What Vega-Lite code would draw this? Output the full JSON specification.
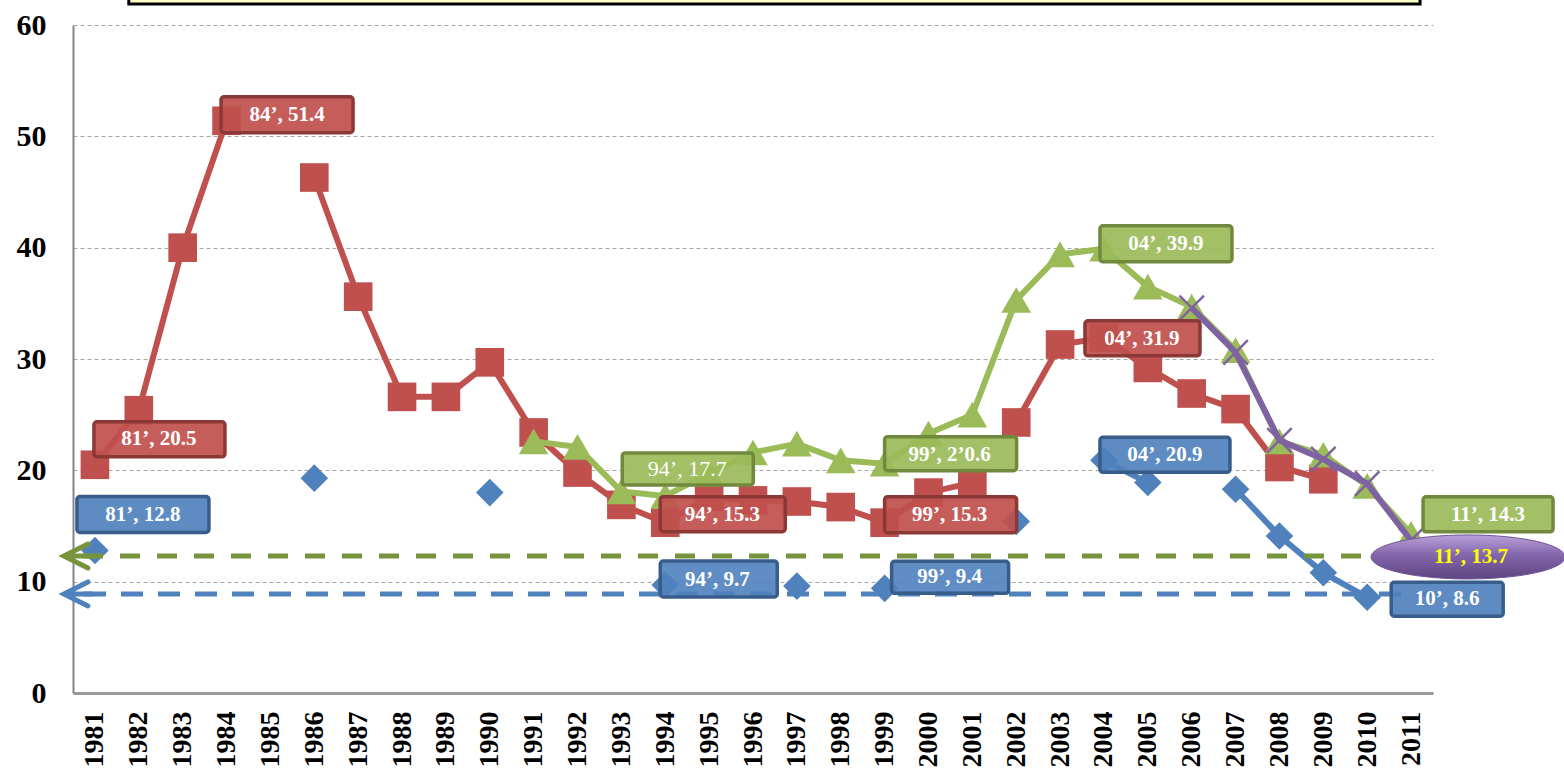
{
  "$schema": "https://vega.github.io/schema/vega-lite/v6.json",
  "width": 1360,
  "height": 668,
  "autosize": {"type": "none"},
  "padding": {"left": 73, "top": 25, "right": 131, "bottom": 77},
  "background": "white",
  "config": {
    "view": {"stroke": null},
    "font": "Liberation Serif",
    "numberFormat": "d",
    "axisX": {
      "tickCount": 31, "labelAngle": -90, "grid": false, "ticks": false, "tickSize": 0,
      "domainColor": "#999999", "domainWidth": 3,
      "labelFont": "Liberation Serif", "labelFontWeight": "bold", "labelFontSize": 28,
      "labelColor": "black", "labelPadding": 18, "labelOverlap": false, "labelFlush": false
    },
    "axisY": {
      "tickCount": 6, "grid": true, "gridDash": [4, 3], "gridColor": "#A6A6A6", "gridWidth": 1,
      "domainColor": "#868686", "domainWidth": 2, "ticks": false, "tickSize": 0,
      "labelFont": "Liberation Serif", "labelFontWeight": "bold", "labelFontSize": 30,
      "labelColor": "black", "labelPadding": 27
    }
  },
  "datasets": {
    "series": [
      {"series": "S1", "year": 1981, "value": 20.5},
      {"series": "S1", "year": 1982, "value": 25.4},
      {"series": "S1", "year": 1983, "value": 40.0},
      {"series": "S1", "year": 1984, "value": 51.4},
      {"series": "S1", "year": 1985, "value": null},
      {"series": "S1", "year": 1986, "value": 46.3},
      {"series": "S1", "year": 1987, "value": 35.6},
      {"series": "S1", "year": 1988, "value": 26.6},
      {"series": "S1", "year": 1989, "value": 26.6},
      {"series": "S1", "year": 1990, "value": 29.7},
      {"series": "S1", "year": 1991, "value": 23.4},
      {"series": "S1", "year": 1992, "value": 19.8},
      {"series": "S1", "year": 1993, "value": 16.9},
      {"series": "S1", "year": 1994, "value": 15.3},
      {"series": "S1", "year": 1995, "value": 17.6},
      {"series": "S1", "year": 1996, "value": 17.3},
      {"series": "S1", "year": 1997, "value": 17.2},
      {"series": "S1", "year": 1998, "value": 16.7},
      {"series": "S1", "year": 1999, "value": 15.3},
      {"series": "S1", "year": 2000, "value": 18.0},
      {"series": "S1", "year": 2001, "value": 18.9},
      {"series": "S1b", "year": 2002, "value": 24.3},
      {"series": "S1b", "year": 2003, "value": 31.3},
      {"series": "S1b", "year": 2004, "value": 31.9},
      {"series": "S1b", "year": 2005, "value": 29.2},
      {"series": "S1b", "year": 2006, "value": 26.9},
      {"series": "S1b", "year": 2007, "value": 25.5},
      {"series": "S1b", "year": 2008, "value": 20.3},
      {"series": "S1b", "year": 2009, "value": 19.2},
      {"series": "S2", "year": 1991, "value": 22.6},
      {"series": "S2", "year": 1992, "value": 22.1},
      {"series": "S2", "year": 1993, "value": 18.1},
      {"series": "S2", "year": 1994, "value": 17.7},
      {"series": "S2", "year": 1995, "value": 19.7},
      {"series": "S2", "year": 1996, "value": 21.6},
      {"series": "S2", "year": 1997, "value": 22.4},
      {"series": "S2", "year": 1998, "value": 20.9},
      {"series": "S2", "year": 1999, "value": 20.6},
      {"series": "S2", "year": 2000, "value": 23.3},
      {"series": "S2", "year": 2001, "value": 25.0},
      {"series": "S2", "year": 2002, "value": 35.3},
      {"series": "S2", "year": 2003, "value": 39.4},
      {"series": "S2", "year": 2004, "value": 39.9},
      {"series": "S2", "year": 2005, "value": 36.5},
      {"series": "S2", "year": 2006, "value": 34.7},
      {"series": "S2", "year": 2007, "value": 30.8},
      {"series": "S2", "year": 2008, "value": 22.6},
      {"series": "S2", "year": 2009, "value": 21.4},
      {"series": "S2", "year": 2010, "value": 18.6},
      {"series": "S2", "year": 2011, "value": 14.3},
      {"series": "S3", "year": 1981, "value": 12.8},
      {"series": "S3", "year": 1982, "value": null},
      {"series": "S3", "year": 1986, "value": 19.3},
      {"series": "S3", "year": 1987, "value": null},
      {"series": "S3", "year": 1990, "value": 18.0},
      {"series": "S3", "year": 1991, "value": null},
      {"series": "S3", "year": 1994, "value": 9.7},
      {"series": "S3", "year": 1995, "value": null},
      {"series": "S3", "year": 1997, "value": 9.6},
      {"series": "S3", "year": 1998, "value": null},
      {"series": "S3", "year": 1999, "value": 9.4},
      {"series": "S3", "year": 2000, "value": null},
      {"series": "S3", "year": 2002, "value": 15.4},
      {"series": "S3", "year": 2003, "value": null},
      {"series": "S3", "year": 2004, "value": 20.9},
      {"series": "S3", "year": 2005, "value": 18.9},
      {"series": "S3", "year": 2006, "value": null},
      {"series": "S3", "year": 2007, "value": 18.3},
      {"series": "S3", "year": 2008, "value": 14.1},
      {"series": "S3", "year": 2009, "value": 10.8},
      {"series": "S3", "year": 2010, "value": 8.6},
      {"series": "S4", "year": 2006, "value": 34.6},
      {"series": "S4", "year": 2007, "value": 30.6},
      {"series": "S4", "year": 2008, "value": 22.7},
      {"series": "S4", "year": 2009, "value": 21.0},
      {"series": "S4", "year": 2010, "value": 18.8},
      {"series": "S4", "year": 2011, "value": 13.7}
    ]
  },
  "layer": [
    {
      "data": {"name": "series"},
      "transform": [{"filter": "datum.series === 'S3'"}],
      "encoding": {
        "x": {"field": "year", "type": "quantitative", "scale": {"domain": [1980.5, 2011.5], "nice": false, "zero": false}, "title": null},
        "y": {"field": "value", "type": "quantitative", "scale": {"domain": [0, 60], "nice": false}, "title": null}
      },
      "layer": [
        {"mark": {"type": "line", "color": "#4F81BD", "strokeWidth": 6, "strokeJoin": "round", "invalid": "break-paths-filter-domains"}},
        {"mark": {"type": "point", "shape": "diamond", "filled": true, "color": "#4F81BD", "size": 760, "opacity": 1}}
      ]
    },
    {
      "data": {"name": "series"},
      "transform": [{"filter": "datum.series === 'S1' || datum.series === 'S1b'"}],
      "encoding": {
        "x": {"field": "year", "type": "quantitative", "scale": {"domain": [1980.5, 2011.5], "nice": false, "zero": false}, "title": null},
        "y": {"field": "value", "type": "quantitative", "scale": {"domain": [0, 60], "nice": false}, "title": null}
      },
      "layer": [
        {"mark": {"type": "line", "color": "#C0504D", "strokeWidth": 6, "strokeJoin": "round", "invalid": "break-paths-filter-domains"}, "encoding": {"detail": {"field": "series"}}},
        {"mark": {"type": "point", "shape": "square", "filled": true, "color": "#C0504D", "size": 820, "opacity": 1}}
      ]
    },
    {
      "data": {"name": "series"},
      "transform": [{"filter": "datum.series === 'S2'"}],
      "encoding": {
        "x": {"field": "year", "type": "quantitative", "scale": {"domain": [1980.5, 2011.5], "nice": false, "zero": false}, "title": null},
        "y": {"field": "value", "type": "quantitative", "scale": {"domain": [0, 60], "nice": false}, "title": null}
      },
      "layer": [
        {"mark": {"type": "line", "color": "#9BBB59", "strokeWidth": 6, "strokeJoin": "round", "invalid": "break-paths-filter-domains"}},
        {"mark": {"type": "point", "shape": "triangle-up", "filled": true, "color": "#9BBB59", "size": 880, "opacity": 1}}
      ]
    },
    {
      "data": {"name": "series"},
      "transform": [{"filter": "datum.series === 'S4'"}],
      "encoding": {
        "x": {"field": "year", "type": "quantitative", "scale": {"domain": [1980.5, 2011.5], "nice": false, "zero": false}, "title": null},
        "y": {"field": "value", "type": "quantitative", "scale": {"domain": [0, 60], "nice": false}, "title": null}
      },
      "layer": [
        {"mark": {"type": "line", "color": "#7E62A1", "strokeWidth": 6, "strokeJoin": "round", "invalid": "break-paths-filter-domains"}},
        {"mark": {"type": "point", "shape": "M-1,-1L1,1M-1,1L1,-1", "filled": false, "color": "#7E62A1", "strokeWidth": 2.5, "size": 600, "opacity": 1}}
      ]
    },
    {
      "data": {"values": [{"value": 60}]},
      "mark": {"type": "rect", "fill": "#FFFFCC", "stroke": "black", "strokeWidth": 3, "xOffset": -10, "x2Offset": 9, "yOffset": -35, "y2Offset": -21},
      "encoding": {
        "x": {"datum": 1982, "type": "quantitative", "scale": {"domain": [1980.5, 2011.5], "nice": false, "zero": false}, "title": null},
        "x2": {"datum": 2011},
        "y": {"field": "value", "type": "quantitative", "scale": {"domain": [0, 60], "nice": false}, "title": null},
        "y2": {"field": "value"}
      }
    },
    {
      "data": {"values": [{"year": 1981, "value": 12.3}]},
      "encoding": {
        "y": {"field": "value", "type": "quantitative", "scale": {"domain": [0, 60], "nice": false}, "title": null}
      },
      "layer": [
        {"mark": {"type": "rule", "color": "#77933C", "strokeWidth": 5, "strokeDash": [20, 17], "strokeDashOffset": 2}},
        {"mark": {"type": "point", "shape": "M-0.7,-1.2L-3.1,0L-0.7,1.2M-3.1,0L-0.3,0", "filled": false, "color": "#77933C", "strokeWidth": 5, "strokeCap": "round", "size": 400, "opacity": 1},
         "encoding": {"x": {"field": "year", "type": "quantitative", "scale": {"domain": [1980.5, 2011.5], "nice": false, "zero": false}, "title": null}}}
      ]
    },
    {
      "data": {"values": [{"year": 1981, "value": 8.9}]},
      "encoding": {
        "y": {"field": "value", "type": "quantitative", "scale": {"domain": [0, 60], "nice": false}, "title": null}
      },
      "layer": [
        {"mark": {"type": "rule", "color": "#4F81BD", "strokeWidth": 5, "strokeDash": [22, 15], "strokeDashOffset": 5}},
        {"mark": {"type": "point", "shape": "M-0.7,-1.2L-3.1,0L-0.7,1.2M-3.1,0L-0.3,0", "filled": false, "color": "#4F81BD", "strokeWidth": 5, "strokeCap": "round", "size": 400, "opacity": 1},
         "encoding": {"x": {"field": "year", "type": "quantitative", "scale": {"domain": [1980.5, 2011.5], "nice": false, "zero": false}, "title": null}}}
      ]
    },
    {
      "data": {"values": [
        {"year": 1984, "value": 51.4, "label": "84’, 51.4", "kind": "A"},
        {"year": 1981, "value": 20.5, "label": "81’, 20.5", "kind": "B"},
        {"year": 1981, "value": 12.8, "label": "81’, 12.8", "kind": "C"},
        {"year": 1994, "value": 17.7, "label": "94’, 17.7", "kind": "D"},
        {"year": 1994, "value": 15.3, "label": "94’, 15.3", "kind": "E"},
        {"year": 1994, "value": 9.7, "label": "94’, 9.7", "kind": "F"},
        {"year": 1999, "value": 20.6, "label": "99’, 2’0.6", "kind": "G"},
        {"year": 1999, "value": 15.3, "label": "99’, 15.3", "kind": "H"},
        {"year": 1999, "value": 9.4, "label": "99’, 9.4", "kind": "I"},
        {"year": 2004, "value": 39.9, "label": "04’, 39.9", "kind": "J"},
        {"year": 2004, "value": 31.9, "label": "04’, 31.9", "kind": "K"},
        {"year": 2004, "value": 20.9, "label": "04’, 20.9", "kind": "L"},
        {"year": 2011, "value": 14.3, "label": "11’, 14.3", "kind": "M"},
        {"year": 2010, "value": 8.6, "label": "10’, 8.6", "kind": "N"},
        {"year": 2011, "value": 13.7, "label": "11’, 13.7", "kind": "O"}
      ]},
      "encoding": {
        "x": {"field": "year", "type": "quantitative", "scale": {"domain": [1980.5, 2011.5], "nice": false, "zero": false}, "title": null},
        "y": {"field": "value", "type": "quantitative", "scale": {"domain": [0, 60], "nice": false}, "title": null},
        "x2": {"field": "year"},
        "y2": {"field": "value"},
        "text": {"field": "label"}
      },
      "layer": [
        {"transform": [{"filter": "datum.kind === 'A'"}], "layer": [
          {"mark": {"type": "rect", "fill": "#C0504D", "fillOpacity": 0.92, "stroke": "#8C3836", "strokeWidth": 3.5, "cornerRadius": 3, "xOffset": -5.5, "x2Offset": 126.5, "yOffset": -24, "y2Offset": 12}},
          {"mark": {"type": "text", "color": "white", "fontWeight": "bold", "fontSize": 21, "dx": 60.5, "dy": -6}}
        ]},
        {"transform": [{"filter": "datum.kind === 'B'"}], "layer": [
          {"mark": {"type": "rect", "fill": "#C0504D", "fillOpacity": 0.92, "stroke": "#8C3836", "strokeWidth": 3.5, "cornerRadius": 3, "xOffset": -1, "x2Offset": 130, "yOffset": -43, "y2Offset": -8}},
          {"mark": {"type": "text", "color": "white", "fontWeight": "bold", "fontSize": 21, "dx": 64, "dy": -26}}
        ]},
        {"transform": [{"filter": "datum.kind === 'C'"}], "layer": [
          {"mark": {"type": "rect", "fill": "#4F81BD", "fillOpacity": 0.92, "stroke": "#385D8A", "strokeWidth": 3.5, "cornerRadius": 3, "xOffset": -18, "x2Offset": 114, "yOffset": -54, "y2Offset": -18}},
          {"mark": {"type": "text", "color": "white", "fontWeight": "bold", "fontSize": 21, "dx": 48, "dy": -35}}
        ]},
        {"transform": [{"filter": "datum.kind === 'D'"}], "layer": [
          {"mark": {"type": "rect", "fill": "#9BBB59", "fillOpacity": 0.92, "stroke": "#71893F", "strokeWidth": 3.5, "cornerRadius": 3, "xOffset": -43, "x2Offset": 88, "yOffset": -43, "y2Offset": -11}},
          {"mark": {"type": "text", "color": "white", "fontWeight": "normal", "fontSize": 22, "dx": 22, "dy": -27}}
        ]},
        {"transform": [{"filter": "datum.kind === 'E'"}], "layer": [
          {"mark": {"type": "rect", "fill": "#C0504D", "fillOpacity": 0.92, "stroke": "#8C3836", "strokeWidth": 3.5, "cornerRadius": 3, "xOffset": -5, "x2Offset": 120, "yOffset": -26, "y2Offset": 9}},
          {"mark": {"type": "text", "color": "white", "fontWeight": "bold", "fontSize": 21, "dx": 57, "dy": -8}}
        ]},
        {"transform": [{"filter": "datum.kind === 'F'"}], "layer": [
          {"mark": {"type": "rect", "fill": "#4F81BD", "fillOpacity": 0.9, "stroke": "#385D8A", "strokeWidth": 3.5, "cornerRadius": 3, "xOffset": -5, "x2Offset": 112, "yOffset": -24, "y2Offset": 12}},
          {"mark": {"type": "text", "color": "white", "fontWeight": "bold", "fontSize": 21, "dx": 52, "dy": -5}}
        ]},
        {"transform": [{"filter": "datum.kind === 'G'"}], "layer": [
          {"mark": {"type": "rect", "fill": "#9BBB59", "fillOpacity": 0.92, "stroke": "#71893F", "strokeWidth": 3.5, "cornerRadius": 3, "xOffset": 0, "x2Offset": 132, "yOffset": -27, "y2Offset": 7}},
          {"mark": {"type": "text", "color": "white", "fontWeight": "bold", "fontSize": 21, "dx": 65, "dy": -9}}
        ]},
        {"transform": [{"filter": "datum.kind === 'H'"}], "layer": [
          {"mark": {"type": "rect", "fill": "#C0504D", "fillOpacity": 0.92, "stroke": "#8C3836", "strokeWidth": 3.5, "cornerRadius": 3, "xOffset": 0, "x2Offset": 132, "yOffset": -26, "y2Offset": 10}},
          {"mark": {"type": "text", "color": "white", "fontWeight": "bold", "fontSize": 21, "dx": 65, "dy": -8}}
        ]},
        {"transform": [{"filter": "datum.kind === 'I'"}], "layer": [
          {"mark": {"type": "rect", "fill": "#4F81BD", "fillOpacity": 0.9, "stroke": "#385D8A", "strokeWidth": 3.5, "cornerRadius": 3, "xOffset": 7, "x2Offset": 124, "yOffset": -27, "y2Offset": 5}},
          {"mark": {"type": "text", "color": "white", "fontWeight": "bold", "fontSize": 21, "dx": 65, "dy": -11}}
        ]},
        {"transform": [{"filter": "datum.kind === 'J'"}], "layer": [
          {"mark": {"type": "rect", "fill": "#9BBB59", "fillOpacity": 0.92, "stroke": "#71893F", "strokeWidth": 3.5, "cornerRadius": 3, "xOffset": -4, "x2Offset": 128, "yOffset": -23, "y2Offset": 13}},
          {"mark": {"type": "text", "color": "white", "fontWeight": "bold", "fontSize": 21, "dx": 62, "dy": -5}}
        ]},
        {"transform": [{"filter": "datum.kind === 'K'"}], "layer": [
          {"mark": {"type": "rect", "fill": "#C0504D", "fillOpacity": 0.92, "stroke": "#8C3836", "strokeWidth": 3.5, "cornerRadius": 3, "xOffset": -19, "x2Offset": 96, "yOffset": -17, "y2Offset": 18}},
          {"mark": {"type": "text", "color": "white", "fontWeight": "bold", "fontSize": 21, "dx": 38, "dy": 1}}
        ]},
        {"transform": [{"filter": "datum.kind === 'L'"}], "layer": [
          {"mark": {"type": "rect", "fill": "#4F81BD", "fillOpacity": 0.92, "stroke": "#385D8A", "strokeWidth": 3.5, "cornerRadius": 3, "xOffset": -4, "x2Offset": 126, "yOffset": -23, "y2Offset": 12}},
          {"mark": {"type": "text", "color": "white", "fontWeight": "bold", "fontSize": 21, "dx": 61, "dy": -5}}
        ]},
        {"transform": [{"filter": "datum.kind === 'M'"}], "layer": [
          {"mark": {"type": "rect", "fill": "#9BBB59", "fillOpacity": 0.92, "stroke": "#71893F", "strokeWidth": 3.5, "cornerRadius": 3, "xOffset": 12, "x2Offset": 142, "yOffset": -37, "y2Offset": -2}},
          {"mark": {"type": "text", "color": "white", "fontWeight": "bold", "fontSize": 21, "dx": 77, "dy": -19}}
        ]},
        {"transform": [{"filter": "datum.kind === 'N'"}], "layer": [
          {"mark": {"type": "rect", "fill": "#4F81BD", "fillOpacity": 0.92, "stroke": "#385D8A", "strokeWidth": 3.5, "cornerRadius": 3, "xOffset": 24, "x2Offset": 136, "yOffset": -15, "y2Offset": 19}},
          {"mark": {"type": "text", "color": "white", "fontWeight": "bold", "fontSize": 21, "dx": 80, "dy": 2}}
        ]},
        {"transform": [{"filter": "datum.kind === 'O'"}], "layer": [
          {"mark": {"type": "point", "shape": "M-0.8,0.33A1.94,0.44,0,1,0,3.08,0.33A1.94,0.44,0,1,0,-0.8,0.33Z", "filled": true, "size": 10000, "opacity": 1,
                    "fill": {"gradient": "linear", "x1": 0, "y1": 0, "x2": 0, "y2": 1, "stops": [{"offset": 0, "color": "#B9A2DA"}, {"offset": 0.45, "color": "#8466AC"}, {"offset": 1, "color": "#5E4582"}]},
                    "stroke": "#6E5394", "strokeWidth": 1}},
          {"mark": {"type": "text", "color": "#FFFF00", "fontWeight": "bold", "fontSize": 21, "dx": 60, "dy": 17}}
        ]}
      ]
    }
  ]
}
